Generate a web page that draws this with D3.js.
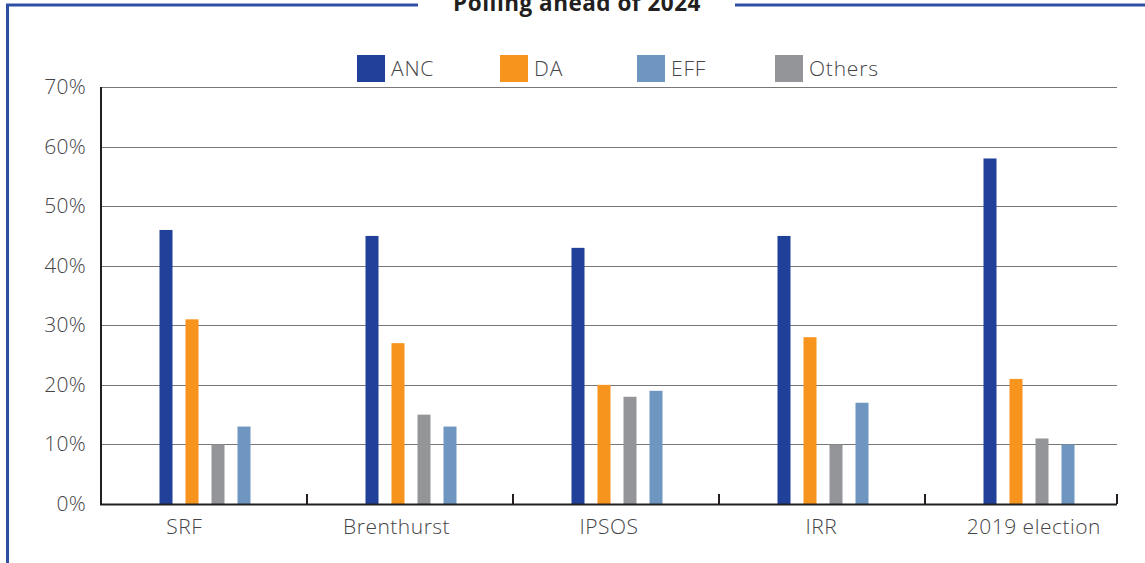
<!DOCTYPE html>
<html>
<head>
<meta charset="utf-8">
<script src="https://cdn.jsdelivr.net/npm/d3@7"></script>
<style>
  body { margin: 0; background: #fff; }
  svg { display: block; }
  text { font-family: "Open Sans", "Liberation Sans", sans-serif; }
</style>
</head>
<body>
<svg id="chart" width="1145" height="563"></svg>
<script>
// chart data
const categories = ["SRF", "Brenthurst", "IPSOS", "IRR", "2019 election"];
const seriesNames = ["ANC", "DA", "Others", "EFF"];
const anc = [46, 45, 43, 45, 58];
const da = [31, 27, 20, 28, 21];
const others = [10, 15, 18, 10, 11];
const eff = [13, 13, 19, 17, 10];
const legendOrder = ["ANC", "DA", "EFF", "Others"];
const yTicks = [0, 10, 20, 30, 40, 50, 60, 70];
const title = "Polling ahead of 2024";

const colors = { ANC: "#21409a", DA: "#f7941d", EFF: "#6f96c1", Others: "#939598" };
const values = { ANC: anc, DA: da, Others: others, EFF: eff };

const svg = d3.select("#chart");
const plotLeft = 101, plotRight = 1117, plotTop = 87, plotBottom = 504;
const textColor = "#454547";

// frame
const frameColor = "#2f50a2";
svg.append("line").attr("x1", 7.5).attr("x2", 7.5).attr("y1", 5).attr("y2", 563)
  .attr("stroke", frameColor).attr("stroke-width", 3);
svg.append("line").attr("x1", 6).attr("x2", 418).attr("y1", 5).attr("y2", 5)
  .attr("stroke", frameColor).attr("stroke-width", 3);
svg.append("line").attr("x1", 735).attr("x2", 1145).attr("y1", 5).attr("y2", 5)
  .attr("stroke", frameColor).attr("stroke-width", 3);
svg.append("text").attr("x", 577).attr("y", 11).attr("text-anchor", "middle")
  .attr("font-size", 22.5).attr("font-weight", 700).attr("letter-spacing", 0.5)
  .attr("fill", "#231f20").text(title);

// bar bands (step 206, last band clipped by the axis end)
const x = d3.scaleBand().domain(categories).range([plotLeft, plotLeft + 206 * categories.length]);
const xLabel = d3.scaleBand().domain(categories).range([78, 1140]);
const y = d3.scaleLinear().domain([0, 70]).range([plotBottom, plotTop]);
const inner = d3.scaleBand().domain(seriesNames).range([-52, 52]).paddingInner(0.5).paddingOuter(0.25);

// gridlines
svg.append("g").selectAll("line").data(yTicks.filter(d => d > 0)).join("line")
  .attr("x1", plotLeft).attr("x2", plotRight)
  .attr("y1", d => Math.round(y(d)) + 0.5).attr("y2", d => Math.round(y(d)) + 0.5)
  .attr("stroke", "#777").attr("stroke-width", 1);

// y labels
svg.append("g").selectAll("text").data(yTicks).join("text")
  .attr("x", 86).attr("y", d => y(d) + 7).attr("text-anchor", "end")
  .attr("font-size", 21).attr("font-weight", 300).attr("letter-spacing", 0.3)
  .attr("fill", textColor).text(d => d + "%");

// bars
const groups = svg.append("g").selectAll("g").data(categories).join("g")
  .attr("transform", d => `translate(${x(d) + x.bandwidth() / 2 + 1},0)`);
groups.selectAll("rect").data((c, i) => seriesNames.map(s => ({ s, v: values[s][i] }))).join("rect")
  .attr("x", d => inner(d.s)).attr("width", inner.bandwidth())
  .attr("y", d => y(d.v)).attr("height", d => plotBottom - y(d.v))
  .attr("fill", d => colors[d.s]);

// axes
svg.append("line").attr("x1", plotLeft).attr("x2", plotLeft).attr("y1", plotTop).attr("y2", plotBottom)
  .attr("stroke", "#231f20").attr("stroke-width", 2);
svg.append("line").attr("x1", plotLeft - 1).attr("x2", plotRight).attr("y1", plotBottom + 0.5).attr("y2", plotBottom + 0.5)
  .attr("stroke", "#231f20").attr("stroke-width", 2);
const boundaries = categories.slice(1).map(c => x(c)).concat([plotRight]);
svg.append("g").selectAll("line").data(boundaries).join("line")
  .attr("x1", d => d).attr("x2", d => d).attr("y1", plotBottom - 10).attr("y2", plotBottom)
  .attr("stroke", "#231f20").attr("stroke-width", 2);

// category labels
svg.append("g").selectAll("text").data(categories).join("text")
  .attr("x", d => xLabel(d) + xLabel.bandwidth() / 2).attr("y", 534).attr("text-anchor", "middle")
  .attr("font-size", 21).attr("font-weight", 300).attr("letter-spacing", 0.5)
  .attr("fill", textColor).text(d => d);

// legend
const legendX = [357, 500, 637, 775];
const legend = svg.append("g").selectAll("g").data(legendOrder).join("g")
  .attr("transform", (d, i) => `translate(${legendX[i]},55)`);
legend.append("rect").attr("width", 28).attr("height", 27).attr("fill", d => colors[d]);
legend.append("text").attr("x", 34).attr("y", 20.5).attr("font-size", 21).attr("font-weight", 300)
  .attr("letter-spacing", 0.8).attr("fill", textColor).text(d => d);
</script>
</body>
</html>
